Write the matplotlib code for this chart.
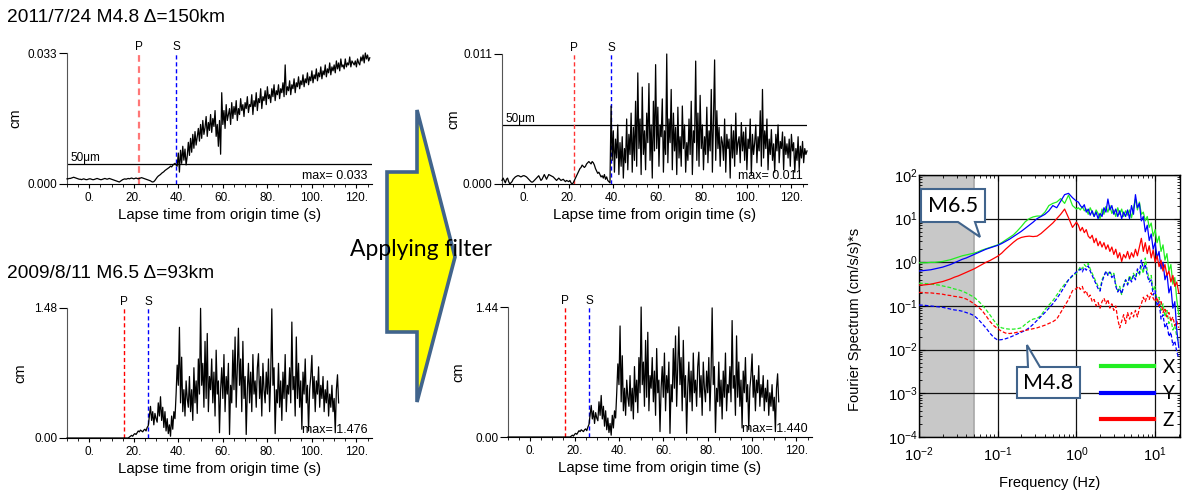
import numpy as np
import matplotlib
matplotlib.use("Agg")
import matplotlib.pyplot as plt
from matplotlib.patches import Polygon
from matplotlib.ticker import FixedLocator, MultipleLocator, FuncFormatter, LogLocator, NullFormatter

plt.rcParams['font.family'] = ['Liberation Sans', 'DejaVu Sans']
plt.rcParams['mathtext.fontset'] = 'custom'
plt.rcParams['mathtext.rm'] = 'Liberation Sans'
plt.rcParams['mathtext.it'] = 'Liberation Sans:italic'

# ---------------- data ----------------
T0, DT = -10.0, 0.5

# M4.8, unfiltered displacement (micrometres)
m48_raw_um = [
    13,
    13, 14, 14, 15, 16, 17, 16, 15, 14, 13,
    12, 12, 11, 12, 13, 12, 11, 11, 12, 13,
    13, 12, 11, 11, 12, 13, 14, 13, 12, 11,
    11, 12, 13, 14, 13, 12, 13, 14, 13, 12,
    11, 10, 9, 8, 7, 6, 5, 7, 9, 11,
    12, 13, 12, 13, 14, 13, 14, 15, 14, 13,
    14, 15, 14, 13, 14, 15, 16, 15, 14, 13,
    12, 11, 10, 9, 8, 6, 5, 6, 9, 13,
    17, 20, 22, 24, 27, 29, 31, 34, 36, 38,
    40, 42, 45, 43, 47, 50, 52, 48,
    45, 78, 30, 85, 52, 95, 60, 88, 48, 70,
    105, 72, 115, 80, 125, 90, 132, 98, 118, 140,
    108, 150, 115, 160, 125, 142, 170, 120, 155, 135,
    175, 130, 165, 145, 185, 120, 150, 95, 160, 75,
    230, 150, 185, 140, 200, 160, 175, 190, 150, 205,
    165, 195, 175, 210, 160, 190, 175, 215, 185, 200,
    170, 205, 190, 220, 180, 200, 195, 225, 175, 210,
    195, 230, 185, 215, 205, 240, 190, 220, 210, 235,
    200, 245, 215, 225, 205, 240, 220, 250, 210, 235,
    225, 250, 215, 240, 230, 255, 220, 300, 225, 245,
    235, 260, 225, 250, 240, 265, 230, 255, 245, 270,
    240, 260, 250, 275, 245, 265, 255, 280, 250, 270,
    260, 285, 255, 275, 265, 290, 260, 280, 270, 295,
    265, 285, 275, 300, 270, 290, 280, 305, 275, 295,
    285, 300, 280, 310, 290, 305, 285, 315, 295, 300,
    290, 315, 295, 305, 300, 320, 295, 310, 305, 300,
    310, 295, 315, 305, 300, 320, 310, 325, 305, 330,
    315, 325, 310, 318,
]

# M4.8, filtered displacement (micrometres)
m48_filt_um = [
    3, 5, 3, 1, 4, 5, 2, 0, 1, 2,
    4, 5, 6, 6.5, 7, 7, 6.5, 6, 6.5, 7,
    7, 6.5, 6, 5, 4, 3, 2, 1.5, 2, 3,
    4, 5, 6, 7, 5, 3, 4, 6, 8, 6,
    4, 6, 8, 7.5, 7, 6.5, 6, 5, 4, 3,
    4, 5, 4, 3, 3.5, 4, 3, 2, 3, 2.5,
    2, 3, 1, 0, 1, 3, 5, 7, 9, 11,
    13, 14, 16, 15, 14, 15, 17, 18, 19, 18,
    17, 19, 18, 16, 13, 11, 9, 10, 8, 6,
    7, 5, 8, 4, 6, 3, 2, 1,
    66, 20, 45, 10, 38, 22, 50, 8, 35, 15,
    40, 5, 30, 18, 55, 12, 42, 25, 60, 10,
    48, 20, 70, 15, 94, 30, 55, 8, 82, 25,
    45, 12, 60, 35, 85, 20, 50, 5, 70, 28,
    101, 30, 65, 15, 50, 40, 72, 10, 45, 25,
    110, 18, 55, 35, 80, 12, 60, 28, 48, 8,
    65, 22, 40, 15, 66, 30, 50, 10, 35, 20,
    55, 25, 70, 8, 45, 35, 104, 20, 60, 15,
    75, 30, 50, 12, 40, 25, 65, 18, 45, 28,
    80, 10, 55, 105, 20, 62, 30, 48, 15, 40,
    35, 20, 55, 10, 42, 30, 38, 5, 50, 22,
    45, 15, 60, 25, 35, 40, 18, 52, 28, 44,
    20, 48, 12, 38, 30, 55, 8, 42, 25, 35,
    50, 18, 40, 28, 62, 15, 80, 22, 45, 30,
    55, 12, 38, 25, 46, 20, 34, 10, 42, 28,
    50, 18, 36, 30, 44, 12, 40, 25, 34, 22,
    38, 15, 42, 28, 35, 10, 30, 20, 40, 12,
    32, 22, 36, 18, 30, 25, 28,
]

# M6.5, unfiltered displacement (0.01 cm)
m65_raw = [
    0, 0, 0, 0, 0, 0, 0, 0, 0, 0,
    0, 0, 0, 0, 0, 0, 0, 0, 0, 0,
    0, 0, 0, 0, 0, 0, 0, 0, 0, 0,
    0, 0, 0, 0, 0, 0, 0, 0, 0, 0,
    0, 0, 0, 0, 0, 0, 0, 0, 0, 0,
    0, 0, 0, 0, 0, 0,
    1, 2, 3, 2, 4, 5, 4, 6, 8, 7, 9, 8, 7, 9, 10, 8, 12,
    14, 25, 36, 20, 30, 15, 28, 22, 18,
    40, 25, 47, 20, 35, 12, 30, 8, 22, 5,
    15, 2, 25, 10, 30, 22, 50, 83,
    60, 126, 40, 92, 30, 55, 25, 65, 45, 35,
    70, 30, 55, 20, 80, 40, 65, 28, 90, 50,
    147.6, 60, 85, 35, 110, 45, 119, 30, 70, 55,
    90, 40, 75, 25, 100, 50, 65, 6, 55, 80,
    45, 95, 30, 70, 50, 85, 4, 60, 40, 100,
    55, 115, 35, 80, 125, 60, 90, 30, 110, 45,
    70, 4, 55, 85, 40, 75, 30, 95, 50, 65,
    35, 80, 96, 45, 70, 25, 85, 55, 40, 75,
    50, 90, 30, 70, 147, 60, 80, 5, 55, 40,
    85, 35, 65, 20, 75, 45, 95, 30, 60, 50,
    80, 40, 132, 55, 70, 25, 115, 45, 85, 35,
    65, 10, 75, 50, 90, 40, 60, 8, 55, 70,
    94, 45, 70, 30, 65, 50, 81, 35, 60, 45,
    70, 30, 55, 40, 65, 25, 50, 35, 60, 30,
    45, 6, 55, 72, 40,
]

# M6.5, filtered displacement (0.01 cm)
m65_filt = [
    0, 0, 0, 0, 0, 0, 0, 0, 0, 0,
    0, 0, 0, 0, 0, 0, 0, 0, 0, 0,
    0, 0, 0, 0, 0, 0, 0, 0, 0, 0,
    0, 0, 0, 0, 0, 0, 0, 0, 0, 0,
    0, 0, 0, 0, 0, 0, 0, 0, 0, 0,
    0, 0, 0, 0, 0, 0, 0,
    1, 2, 1, 3, 4, 3, 5, 7, 6, 8, 7, 6, 8, 9, 7, 11,
    14, 24, 35, 20, 29, 15, 27, 21, 18,
    39, 24, 46, 20, 34, 12, 29, 8, 21, 5,
    15, 2, 24, 10, 29, 21, 49, 81,
    58, 123, 39, 90, 29, 54, 24, 63, 44, 34,
    68, 29, 54, 20, 78, 39, 63, 27, 88, 49,
    144, 58, 83, 34, 107, 44, 116, 29, 68, 54,
    88, 39, 73, 24, 98, 49, 63, 6, 54, 78,
    44, 93, 29, 68, 49, 83, 4, 58, 39, 98,
    54, 112, 34, 78, 122, 58, 88, 29, 107, 44,
    68, 4, 54, 83, 39, 73, 29, 93, 49, 63,
    34, 78, 94, 44, 68, 24, 83, 54, 39, 73,
    49, 88, 29, 68, 143, 58, 78, 5, 54, 39,
    83, 34, 63, 20, 73, 44, 93, 29, 58, 49,
    78, 39, 129, 54, 68, 24, 112, 44, 83, 34,
    63, 10, 73, 49, 88, 39, 58, 8, 54, 68,
    92, 44, 68, 29, 63, 49, 79, 34, 58, 44,
    68, 29, 54, 39, 63, 24, 49, 34, 58, 29,
    44, 6, 54, 70, 39,
]

# P and S arrival times (s)
m48_p, m48_s = 22.5, 39.0
m65_p, m65_s = 15.5, 26.5

# Fourier spectra: log10 amplitude on a log10 frequency grid
LOGF = np.concatenate([np.linspace(-2.0, 0.0, 41), np.linspace(0.025, 1.3, 52)])
m65_x = [-0.01, -0.01, -0.01, 0.00, 0.00, 0.01, 0.02, 0.04, 0.06, 0.09,
         0.12, 0.15, 0.17, 0.19, 0.21, 0.24, 0.28, 0.31, 0.34, 0.37,
         0.40, 0.45, 0.51, 0.57, 0.63, 0.72, 0.82, 0.93, 1.00, 1.04,
         1.06, 1.06, 1.15, 1.30, 1.35, 1.38, 1.46, 1.35, 1.54, 1.30, 1.22,
         1.25, 1.20, 1.28, 1.18, 1.22, 1.10, 1.25, 1.15, 1.05, 1.20,
         1.12, 1.00, 1.22, 1.10, 1.28, 1.15, 1.30, 1.12, 1.20, 1.05,
         1.25, 1.10, 1.22, 1.05, 1.18, 1.08, 1.20, 1.02, 1.25, 1.45,
         1.20, 1.38, 1.10, 1.15, 0.95, 1.05, 0.80, 0.90, 0.60, 0.75,
         0.45, 0.60, 0.25, 0.40, 0.05, 0.20, -0.20, -0.05, -0.50, -0.35,
         -0.85, -1.20]
m65_y = [-0.20, -0.19, -0.18, -0.17, -0.15, -0.13, -0.11, -0.08, -0.05, -0.01,
         0.03, 0.07, 0.10, 0.14, 0.18, 0.22, 0.26, 0.30, 0.33, 0.36,
         0.39, 0.43, 0.48, 0.53, 0.59, 0.65, 0.71, 0.78, 0.85, 0.92,
         1.00, 1.05, 1.10, 1.18, 1.30, 1.25, 1.40, 1.55, 1.58, 1.48, 1.40,
         1.38, 1.30, 1.25, 1.32, 1.15, 1.22, 1.08, 1.18, 1.05, 1.15,
         1.00, 1.12, 1.05, 1.25, 1.15, 1.45, 1.20, 1.30, 1.10, 1.22,
         1.05, 1.18, 1.00, 1.15, 1.05, 1.20, 1.00, 1.30, 1.10, 1.55,
         1.25, 1.35, 0.95, 1.05, 0.70, 0.85, 0.50, 0.65, 0.30, 0.45,
         0.10, 0.25, -0.15, 0.00, -0.40, -0.25, -0.70, -0.55, -1.05, -0.90,
         -1.55, -1.95]
m65_z = [-0.52, -0.52, -0.51, -0.50, -0.48, -0.46, -0.44, -0.41, -0.38, -0.34,
         -0.31, -0.27, -0.23, -0.19, -0.15, -0.10, -0.05, 0.00, 0.04, 0.09,
         0.14, 0.21, 0.30, 0.38, 0.46, 0.53, 0.57, 0.59, 0.60, 0.59,
         0.60, 0.66, 0.74, 0.82, 0.90, 1.00, 1.10, 1.22, 1.02, 0.80, 0.92,
         0.85, 0.72, 0.80, 0.68, 0.75, 0.60, 0.55, 0.62, 0.45, 0.55,
         0.38, 0.48, 0.35, 0.45, 0.30, 0.40, 0.25, 0.35, 0.18, 0.30,
         0.10, 0.22, 0.02, 0.18, 0.10, 0.25, 0.08, 0.22, 0.12, 0.30,
         0.15, 0.35, 0.55, 0.25, 0.45, 0.20, 0.38, 0.10, 0.28, 0.00,
         0.15, -0.10, 0.05, -0.20, -0.05, -0.30, -0.20, -0.45, -0.30, -0.55,
         -0.45, -0.70]
m48_x = [-0.48, -0.48, -0.49, -0.50, -0.51, -0.52, -0.54, -0.56, -0.58, -0.61,
         -0.63, -0.66, -0.70, -0.75, -0.80, -0.88, -0.97, -1.08, -1.20, -1.33,
         -1.44, -1.50, -1.52, -1.53, -1.53, -1.52, -1.50, -1.42, -1.35, -1.30,
         -1.28, -1.22, -1.08, -0.98, -0.88, -0.75, -0.62, -0.50, -0.40, -0.32, -0.25,
         -0.18, -0.10, -0.15, -0.05, -0.10, -0.02, -0.15, -0.25, -0.35, -0.45,
         -0.55, -0.62, -0.40, -0.30, -0.22, -0.28, -0.20, -0.30, -0.25, -0.50,
         -0.65, -0.55, -0.75, -0.50, -0.40, -0.50, -0.30, -0.42, -0.25, -0.35,
         -0.20, -0.30, -0.10, -0.25, 0.10, -0.20, -0.40, -0.30, -0.65, -0.55,
         -0.90, -0.80, -1.10, -0.95, -1.25, -1.10, -1.40, -1.30, -1.55, -1.45,
         -1.70, -1.85]
m48_y = [-0.98, -0.98, -0.99, -1.00, -1.01, -1.02, -1.03, -1.05, -1.07, -1.09,
         -1.10, -1.12, -1.15, -1.18, -1.22, -1.30, -1.40, -1.50, -1.62, -1.72,
         -1.78, -1.77, -1.75, -1.72, -1.68, -1.64, -1.60, -1.56, -1.50, -1.42,
         -1.33, -1.24, -1.15, -1.05, -0.95, -0.83, -0.70, -0.55, -0.40, -0.30, -0.22,
         -0.20, -0.15, -0.22, -0.12, -0.18, -0.08, -0.20, -0.30, -0.40, -0.50,
         -0.60, -0.66, -0.45, -0.32, -0.20, -0.30, -0.22, -0.35, -0.28, -0.55,
         -0.68, -0.60, -0.72, -0.55, -0.40, -0.52, -0.35, -0.45, -0.30, -0.40,
         -0.15, -0.25, 0.05, -0.15, -0.05, -0.30, -0.45, -0.40, -0.75, -0.65,
         -1.00, -0.90, -1.30, -1.20, -1.50, -1.40, -1.70, -1.60, -1.90, -1.80,
         -2.05, -2.20]
m48_z = [-0.69, -0.69, -0.70, -0.70, -0.71, -0.72, -0.73, -0.75, -0.76, -0.78,
         -0.79, -0.81, -0.84, -0.89, -0.95, -1.02, -1.10, -1.22, -1.35, -1.45,
         -1.52, -1.58, -1.62, -1.63, -1.62, -1.60, -1.58, -1.56, -1.54, -1.52,
         -1.50, -1.47, -1.44, -1.40, -1.36, -1.30, -1.15, -1.00, -0.85, -0.65, -0.60,
         -0.55, -0.62, -0.55, -0.70, -0.65, -0.80, -0.75, -0.90, -0.85, -1.00,
         -0.92, -1.05, -0.90, -0.82, -0.95, -0.85, -1.05, -0.95, -1.10, -1.00,
         -1.30, -1.50, -1.35, -1.20, -1.40, -1.15, -1.30, -1.15, -1.25, -1.10,
         -1.25, -1.05, -0.95, -0.80, -0.90, -0.75, -0.85, -0.70, -0.82, -0.90,
         -0.80, -1.00, -0.90, -1.15, -1.05, -1.25, -1.15, -1.35, -1.25, -1.45,
         -1.35, -1.50]

comp_labels = ['X', 'Y', 'Z']
comp_colors = ['#22ee22', '#0000ff', '#ff0000']
titles = ['2011/7/24 M4.8 Δ=150km', '2009/8/11 M6.5 Δ=93km']

# ---------------- figure ----------------
W, H = 1185, 493
fig = plt.figure(figsize=(W / 100, H / 100), dpi=100)


def rect(l, t, r, b):
    return [l / W, 1 - b / H, (r - l) / W, (b - t) / H]


def fp(x, y):
    return (x / W, 1 - y / H)


def wave(r, vals, scale, nd, p_t, s_t, p_color, p_lw, ylab_x, um=False):
    ax = fig.add_axes(r)
    y = np.asarray(vals, float) * scale
    t = T0 + DT * np.arange(len(y))
    ymax = round(float(y.max()), nd)
    ax.plot(t, y, color='black', lw=0.9, zorder=3, clip_on=False)
    ax.set_xlim(-10, 127)
    ax.set_ylim(0, ymax)
    for s in ('top', 'right'):
        ax.spines[s].set_visible(False)
    ax.spines['left'].set_color('#555555')
    ax.spines['bottom'].set_color('black')
    ax.yaxis.set_major_locator(FixedLocator([0, ymax]))
    ax.yaxis.set_major_formatter(FuncFormatter(lambda v, p: f'{v:.{nd}f}'))
    ax.xaxis.set_major_locator(MultipleLocator(20))
    ax.xaxis.set_minor_locator(MultipleLocator(5))
    ax.xaxis.set_major_formatter(FuncFormatter(lambda v, p: f'{v:.0f}.'))
    ax.tick_params(axis='y', length=6, width=0.8, pad=1, labelsize=8.5, colors='black')
    ax.tick_params(axis='x', which='major', length=3, width=0.8, pad=3, labelsize=8.5)
    ax.tick_params(axis='x', which='minor', length=2, width=0.6)
    ax.plot([p_t, p_t], [0, ymax], color=p_color, lw=p_lw, ls=(0, (3, 2)), zorder=2)
    ax.plot([s_t, s_t], [0, ymax], color='#0000ff', lw=1.0, ls=(0, (3, 2)), zorder=2)
    ax.text(p_t, ymax, 'P', ha='center', va='bottom', fontsize=8.5)
    ax.text(s_t, ymax, 'S', ha='center', va='bottom', fontsize=8.5)
    if um:
        ax.axhline(0.005, color='black', lw=0.9, zorder=1)
        ax.text(-8.5, 0.005, '50μm', ha='left', va='bottom', fontsize=8.5)
    ax.text(0.985, 0.015, f'max= {y.max():.3f}', transform=ax.transAxes,
            ha='right', va='bottom', fontsize=9, zorder=1)
    ax.set_ylabel('cm', fontsize=10.5)
    ax.yaxis.label.set_va('center')
    ax.yaxis.set_label_coords(ylab_x, 0.5)
    ax.set_xlabel('Lapse time from origin time (s)', fontsize=10.8)
    ax.xaxis.label.set_va('center')
    ax.xaxis.set_label_coords(0.5, -0.235)
    return ax


wave(rect(67, 53, 372, 184), m48_raw_um, 1e-4, 3, m48_p, m48_s, '#ff7777', 1.6, -0.170, um=True)
wave(rect(502, 54, 807, 184), m48_filt_um, 1e-4, 3, m48_p, m48_s, '#ff3333', 1.0, -0.161, um=True)
wave(rect(67, 308, 372, 438), m65_raw, 1e-2, 2, m65_p, m65_s, '#ff0000', 1.0, -0.154)
wave(rect(508, 307, 812, 437), m65_filt, 1e-2, 2, m65_p, m65_s, '#ff0000', 1.0, -0.164)

fig.text(*fp(7, 17), titles[0], ha='left', va='center', fontsize=13.8)
fig.text(*fp(7, 273), titles[1], ha='left', va='center', fontsize=13.8)

# block arrow
arrow_px = [(387, 172), (417, 172), (417, 110), (455, 257), (417, 402), (417, 332), (387, 332)]
fig.patches.append(Polygon([fp(x, y) for x, y in arrow_px], closed=True, transform=fig.transFigure,
                           facecolor='#ffff00', edgecolor='#41648c', lw=2.6, joinstyle='miter', zorder=5))
fig.text(*fp(421, 250), 'Applying filter', ha='center', va='center', fontsize=16.5,
         family=['Lato', 'DejaVu Sans'], zorder=6)

# spectrum
ax = fig.add_axes(rect(919, 175, 1180, 437))
ax.set_xscale('log')
ax.set_yscale('log')
ax.set_xlim(0.01, 20.7)
ax.set_ylim(1e-4, 1e2)
ax.axvspan(0.01, 0.05, color='#c8c8c8', zorder=0, lw=0)
ax.axvline(0.05, color='#a8a8a8', lw=1.2, zorder=0.5)
ax.grid(which='major', color='#111111', lw=0.9, zorder=1)
f = 10 ** LOGF
for vals, c in zip([m48_x, m48_y, m48_z], comp_colors):
    ax.plot(f, 10 ** np.asarray(vals), color=c, lw=0.9, ls=(0, (3, 1.6)), zorder=3)
handles = []
for vals, c, lab in zip([m65_x, m65_y, m65_z], comp_colors, comp_labels):
    h, = ax.plot(f, 10 ** np.asarray(vals), color=c, lw=0.9, zorder=4, label=lab)
    handles.append(h)
ax.xaxis.set_major_locator(LogLocator(base=10, numticks=10))
ax.yaxis.set_major_locator(LogLocator(base=10, numticks=10))
ax.xaxis.set_minor_locator(LogLocator(base=10, subs=np.arange(2, 10), numticks=20))
ax.yaxis.set_minor_locator(LogLocator(base=10, subs=np.arange(2, 10), numticks=20))
ax.xaxis.set_minor_formatter(NullFormatter())
ax.yaxis.set_minor_formatter(NullFormatter())
ax.tick_params(which='both', direction='in', top=True, right=True)
ax.tick_params(which='major', length=4, width=0.8, labelsize=10.5)
ax.tick_params(axis='x', which='major', pad=6)
ax.tick_params(axis='y', which='major', pad=1)
ax.tick_params(which='minor', length=2, width=0.6)
for s in ax.spines.values():
    s.set_color('black')
    s.set_linewidth(1.0)
ax.set_xlabel('Frequency (Hz)', fontsize=10.5)
ax.xaxis.label.set_va('center')
ax.xaxis.set_label_coords(0.5, -46 / 262)
ax.set_ylabel('Fourier Spectrum (cm/s/s)*s', fontsize=10.5)
ax.yaxis.label.set_va('center')
ax.yaxis.set_label_coords(-64 / 261, 0.45)

leg = ax.legend(handles, comp_labels, loc='upper left', bbox_to_anchor=fp(1101, 359),
                bbox_transform=fig.transFigure, frameon=False, borderpad=0, borderaxespad=0,
                handlelength=2.8, handletextpad=0.5, labelspacing=0.5,
                prop={'family': 'Lato', 'size': 13.5})
for h in leg.legend_handles:
    h.set_linewidth(3)

# callouts
c1 = [(921, 189), (985, 189), (985, 222), (975, 222), (980, 237), (958, 222), (921, 222)]
c2 = [(1017, 367), (1028, 367), (1027, 345), (1040, 367), (1080, 367), (1080, 398), (1017, 398)]
for pts, txt, (cx, cy) in [(c1, 'M6.5', (953, 206)), (c2, 'M4.8', (1048.5, 383))]:
    fig.patches.append(Polygon([fp(x, y) for x, y in pts], closed=True, transform=fig.transFigure,
                               facecolor='white', edgecolor='#41648c', lw=1.5, zorder=7))
    fig.text(*fp(cx, cy), txt, ha='center', va='center', fontsize=15.5,
             family=['Lato', 'DejaVu Sans'], zorder=8)

fig.savefig('out.png', dpi=100)
